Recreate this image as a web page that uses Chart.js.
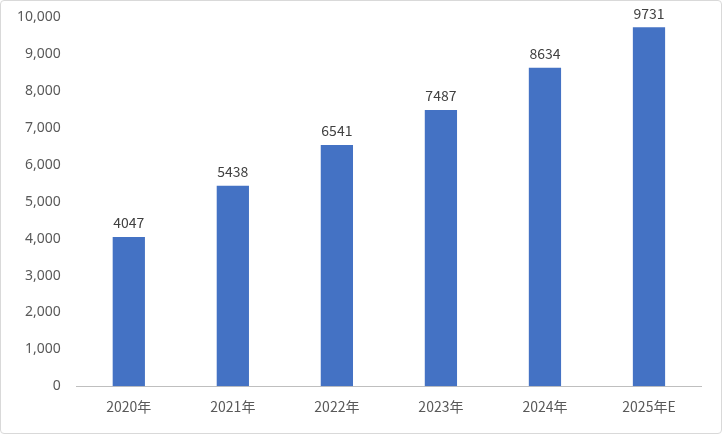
<!DOCTYPE html>
<html><head><meta charset="utf-8">
<script src="https://cdn.jsdelivr.net/npm/chart.js@4"></script>
<style>
html,body{margin:0;padding:0;background:#fff;}
#wrap{position:absolute;left:0;top:0;width:720px;height:432px;border:1px solid #d9d9d9;border-radius:4px;}
</style></head><body>
<div id="wrap"><canvas id="c" width="720" height="432"></canvas></div>
<script>
const categories = ['2020年','2021年','2022年','2023年','2024年','2025年E'];
const values = [4047,5438,6541,7487,8634,9731];

const labelPlugin = {
  id:'labels',
  afterDatasetsDraw(chart){
    const ctx = chart.ctx;
    const meta = chart.getDatasetMeta(0);
    ctx.save();
    ctx.fillStyle='#404040';
    ctx.font='14px "Noto Sans CJK SC", "Noto Sans", sans-serif';
    ctx.textAlign='center';
    ctx.textBaseline='bottom';
    meta.data.forEach((b,i)=>{ ctx.fillText(String(values[i]), b.x, b.y-7); });
    ctx.restore();
  }
};

new Chart(document.getElementById('c'),{
  type:'bar',
  data:{labels:categories,datasets:[{data:values,backgroundColor:'#4472c4',barPercentage:0.31,categoryPercentage:1}]},
  options:{
    responsive:false,animation:false,
    layout:{padding:{left:8,right:20,top:14,bottom:6}},
    plugins:{legend:{display:false},tooltip:{enabled:false}},
    scales:{
      x:{grid:{display:false,drawTicks:false},border:{color:'#bfbfbf'},
         ticks:{color:'#595959',padding:12,font:{size:14,family:'"Noto Sans CJK SC", sans-serif'}}},
      y:{min:0,max:10000,grid:{display:false},border:{display:false},
         ticks:{stepSize:1000,color:'#595959',padding:8,font:{size:14,family:'"Noto Sans", sans-serif'}}}
    }
  },
  plugins:[labelPlugin]
});
</script></body></html>
